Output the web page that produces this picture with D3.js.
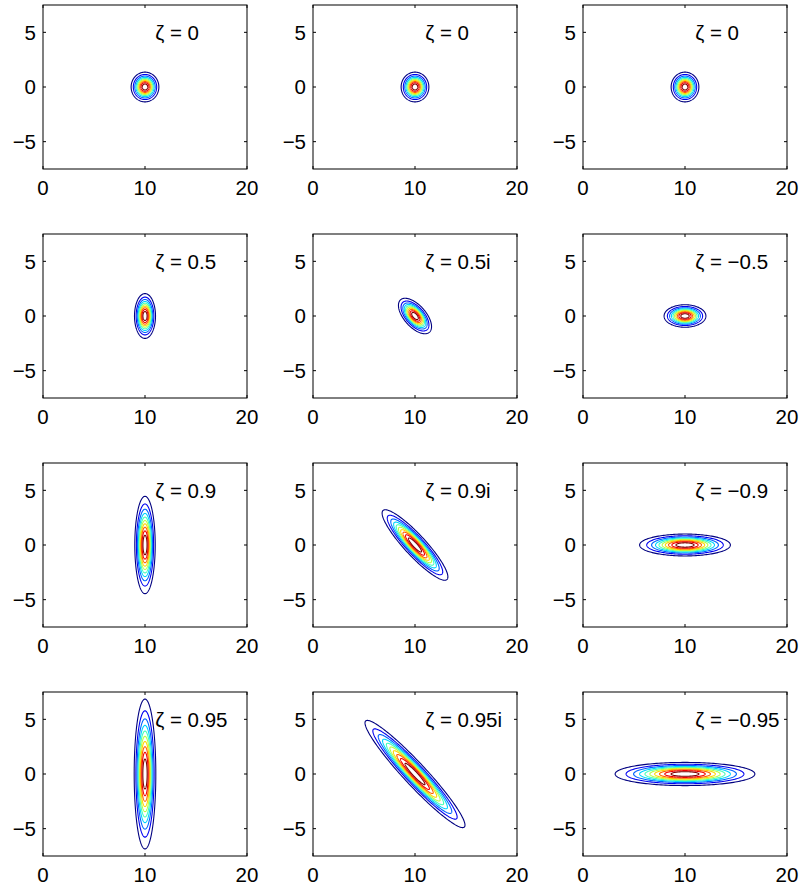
<!DOCTYPE html>
<html>
<head>
<meta charset="utf-8">
<script src="https://cdn.jsdelivr.net/npm/d3@7"></script>
<style>
  body { margin: 0; background: #fff; }
  text { font-family: "Liberation Sans", Arial, Helvetica, sans-serif; fill: #000; }
</style>
</head>
<body>
<svg id="fig" width="803" height="890"></svg>
<script>
// Squeezing parameter of each panel (row by row)
const panelLabels = [
  "ζ = 0",    "ζ = 0",     "ζ = 0",
  "ζ = 0.5",  "ζ = 0.5i",  "ζ = −0.5",
  "ζ = 0.9",  "ζ = 0.9i",  "ζ = −0.9",
  "ζ = 0.95", "ζ = 0.95i", "ζ = −0.95"
];
// Semi-axes of the outermost contour (data units) and direction of the long axis (degrees)
const majorAxis = [1.36, 1.36, 1.36, 2.05, 2.05, 2.05, 4.45, 4.45, 4.45, 6.85, 6.85, 6.85];
const minorAxis = [1.36, 1.36, 1.36, 1.03, 1.03, 1.03, 1.00, 1.00, 1.00, 1.06, 1.06, 1.06];
const tiltDeg   = [90, 90, 90, 90, -45, 0, 90, -45, 0, 90, -45, 0];
const centre = [10, 0];
// Contour levels as fractions of the peak value (outer to inner)
const levelFractions = [0.091, 0.182, 0.273, 0.364, 0.455, 0.545, 0.636, 0.727, 0.818, 0.909];
const xTicks = [0, 10, 20];
const yTicks = [-5, 0, 5];
const xDomain = [0, 20];
const yDomain = [-7.5, 7.5];

// Layout of the 4 x 3 grid
const nCols = 3;
const axLeft0 = 43, axTop0 = 5, colStep = 270, rowStep = 229;
const axW = 204, axH = 164;
const tickLen = 3;
const fontPx = 20.5;

// MATLAB-style jet colour map
function jet(t) {
  const c = v => Math.max(0, Math.min(1, v));
  const r = c(1.5 - Math.abs(4 * t - 3));
  const g = c(1.5 - Math.abs(4 * t - 2));
  const b = c(1.5 - Math.abs(4 * t - 1));
  return d3.rgb(r * 255, g * 255, b * 255).formatHex();
}

const svg = d3.select("#fig");
const defs = svg.append("defs");

panelLabels.forEach((label, i) => {
  const row = Math.floor(i / nCols), col = i % nCols;
  const left = axLeft0 + col * colStep;
  const top = axTop0 + row * rowStep;

  const x = d3.scaleLinear().domain(xDomain).range([left, left + axW]);
  const y = d3.scaleLinear().domain(yDomain).range([top + axH, top]);

  const clipId = "clip" + i;
  defs.append("clipPath").attr("id", clipId)
    .append("rect").attr("x", left).attr("y", top).attr("width", axW).attr("height", axH);

  const g = svg.append("g");

  // Contour ellipses of the Gaussian quasi-probability distribution
  const phi = tiltDeg[i] * Math.PI / 180;
  const lnOuter = Math.log(levelFractions[0]);
  const line = d3.line()
    .x(d => x(d[0]))
    .y(d => y(d[1]))
    .curve(d3.curveLinearClosed);

  const contours = levelFractions.map((f, k) => {
    const s = Math.sqrt(Math.log(f) / lnOuter);
    const a = majorAxis[i] * s, b = minorAxis[i] * s;
    const pts = d3.range(0, 360, 2).map(deg => {
      const th = deg * Math.PI / 180;
      const u = a * Math.cos(th), v = b * Math.sin(th);
      return [centre[0] + u * Math.cos(phi) - v * Math.sin(phi),
              centre[1] + u * Math.sin(phi) + v * Math.cos(phi)];
    });
    return { pts, color: jet(k / (levelFractions.length - 1)) };
  });

  g.append("g").attr("clip-path", `url(#${clipId})`)
    .selectAll("path").data(contours).join("path")
    .attr("d", d => line(d.pts))
    .attr("fill", "none")
    .attr("stroke", d => d.color)
    .attr("stroke-width", 1.1);

  // Axes box
  g.append("rect")
    .attr("x", left).attr("y", top).attr("width", axW).attr("height", axH)
    .attr("fill", "none").attr("stroke", "#000").attr("stroke-width", 1);

  // Inward ticks on all four sides
  const tg = g.append("g").attr("stroke", "#000").attr("stroke-width", 1);
  xTicks.forEach(t => {
    tg.append("line").attr("x1", x(t)).attr("x2", x(t)).attr("y1", top + axH).attr("y2", top + axH - tickLen);
    tg.append("line").attr("x1", x(t)).attr("x2", x(t)).attr("y1", top).attr("y2", top + tickLen);
  });
  yTicks.forEach(t => {
    tg.append("line").attr("y1", y(t)).attr("y2", y(t)).attr("x1", left).attr("x2", left + tickLen);
    tg.append("line").attr("y1", y(t)).attr("y2", y(t)).attr("x1", left + axW).attr("x2", left + axW - tickLen);
  });

  // Tick labels
  const fmt = v => (v < 0 ? "−" + Math.abs(v) : String(v));
  g.selectAll("text.xt").data(xTicks).join("text")
    .attr("class", "xt")
    .attr("x", d => x(d)).attr("y", top + axH + 26)
    .attr("text-anchor", "middle")
    .style("font-size", fontPx + "px")
    .text(fmt);
  g.selectAll("text.yt").data(yTicks).join("text")
    .attr("class", "yt")
    .attr("x", left - 7).attr("y", d => y(d))
    .attr("dy", "0.36em")
    .attr("text-anchor", "end")
    .style("font-size", fontPx + "px")
    .text(fmt);

  // Panel annotation
  g.append("text")
    .attr("x", x(11)).attr("y", y(5))
    .attr("dy", "0.36em")
    .style("font-size", fontPx + "px")
    .text(label);
});
</script>
</body>
</html>
